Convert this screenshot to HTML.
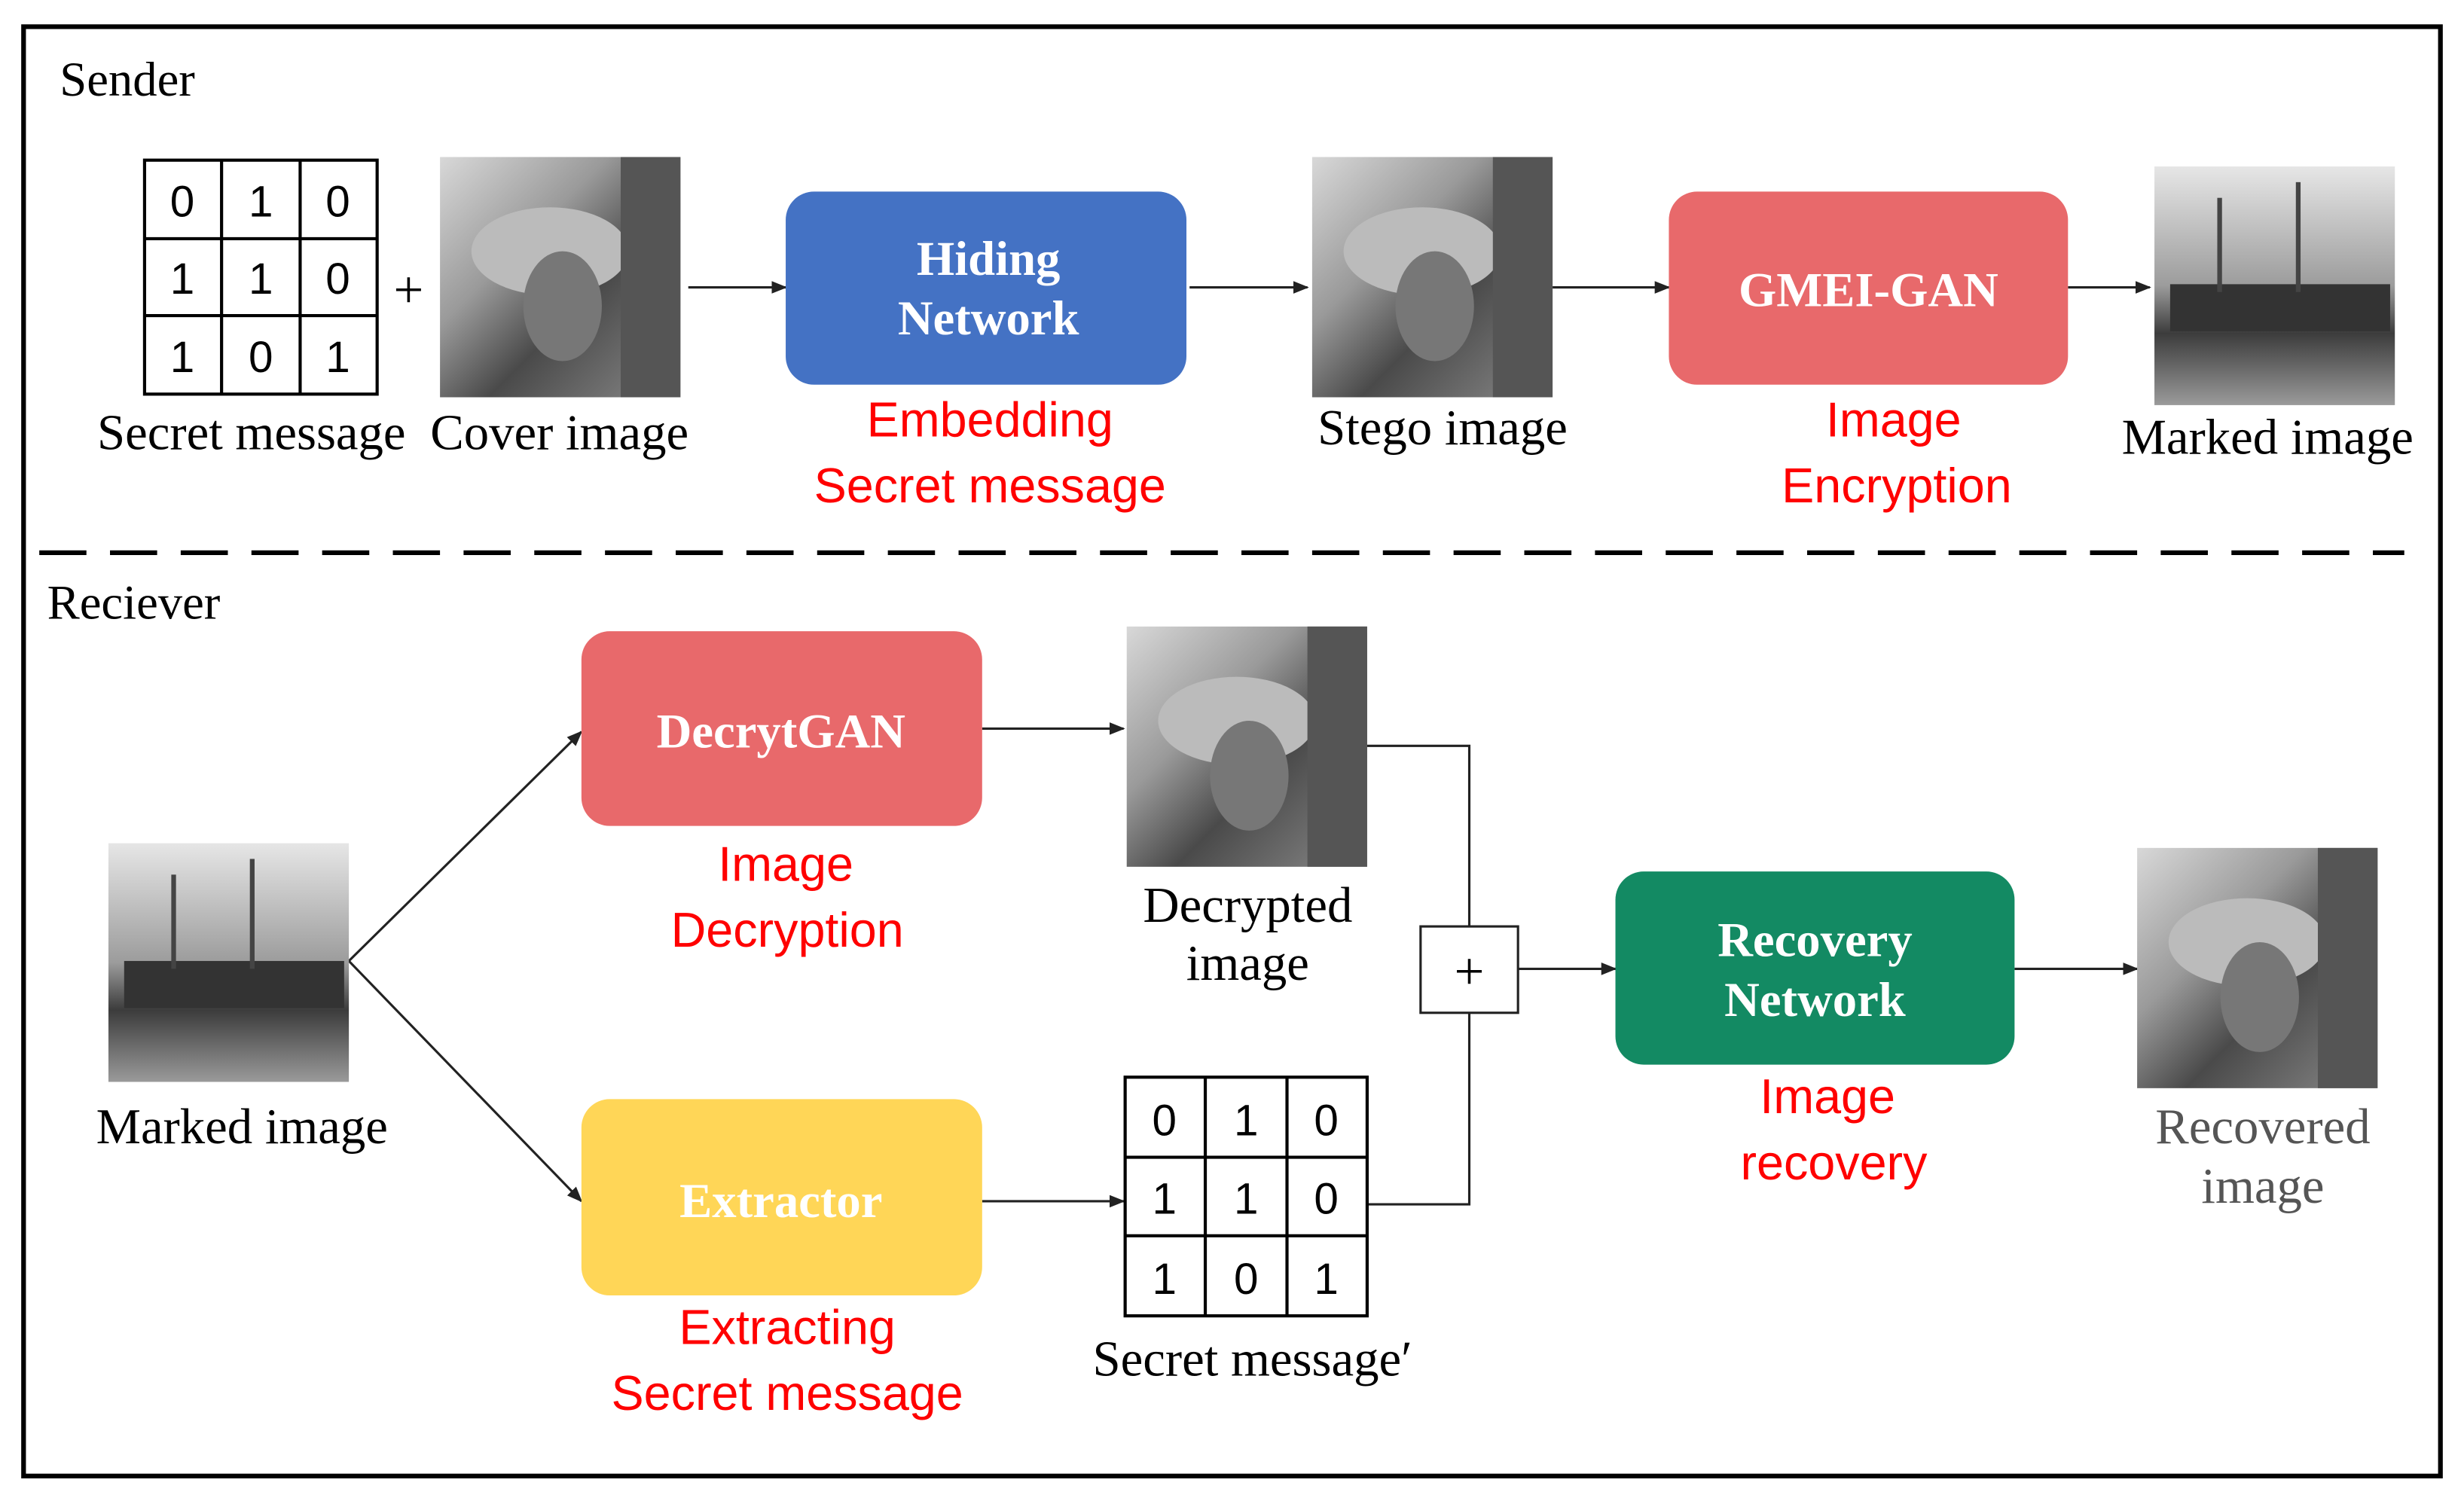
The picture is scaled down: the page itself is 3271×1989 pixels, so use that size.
<!DOCTYPE html>
<html><head><meta charset="utf-8"><style>html,body{margin:0;padding:0;background:#fff}svg{display:block}</style></head><body>
<svg width="3271" height="1989" viewBox="0 0 1568 954" preserveAspectRatio="none" xmlns="http://www.w3.org/2000/svg">
<defs>
<marker id="a" markerWidth="10" markerHeight="10" refX="9" refY="5" orient="auto" markerUnits="userSpaceOnUse"><path d="M0,1 L10,5 L0,9 z" fill="#222"/></marker>
<linearGradient id="lena" x1="0" y1="0" x2="1" y2="1"><stop offset="0" stop-color="#d8d8d8"/><stop offset="0.35" stop-color="#9a9a9a"/><stop offset="0.6" stop-color="#4a4a4a"/><stop offset="1" stop-color="#8a8a8a"/></linearGradient>
<linearGradient id="boat" x1="0" y1="0" x2="0" y2="1"><stop offset="0" stop-color="#e6e6e6"/><stop offset="0.5" stop-color="#9c9c9c"/><stop offset="0.7" stop-color="#3c3c3c"/><stop offset="1" stop-color="#9a9a9a"/></linearGradient>
<g id="L"><rect width="153" height="153" fill="url(#lena)"/><ellipse cx="70" cy="60" rx="50" ry="28" fill="#bbb"/><ellipse cx="78" cy="95" rx="25" ry="35" fill="#777"/><rect x="115" width="38" height="153" fill="#555"/></g>
<g id="B"><rect width="153" height="152" fill="url(#boat)"/><rect x="10" y="75" width="140" height="30" fill="#333"/><rect x="40" y="20" width="3" height="60" fill="#444"/><rect x="90" y="10" width="3" height="70" fill="#444"/></g>
</defs>
<g font-family="Liberation Serif, serif">
<rect x="15" y="17" width="1538" height="923" fill="none" stroke="#000" stroke-width="3"/>
<text x="38" y="61" font-size="31">Sender</text>
<line x1="25" y1="352" x2="1530" y2="352" stroke="#000" stroke-width="3" stroke-dasharray="30,15"/>
<text x="30" y="394" font-size="31">Reciever</text>

<g stroke="#000" stroke-width="2" fill="none"><rect x="92" y="102" width="148" height="149"/><line x1="141" y1="102" x2="141" y2="251"/><line x1="191" y1="102" x2="191" y2="251"/><line x1="92" y1="152" x2="240" y2="152"/><line x1="92" y1="201" x2="240" y2="201"/></g>
<g font-family="Liberation Sans, sans-serif" font-size="28" text-anchor="middle"><text x="116" y="138">0</text><text x="166" y="138">1</text><text x="215" y="138">0</text><text x="116" y="187">1</text><text x="166" y="187">1</text><text x="215" y="187">0</text><text x="116" y="237">1</text><text x="166" y="237">0</text><text x="215" y="237">1</text></g>
<text x="260" y="196" font-size="34" text-anchor="middle">+</text>
<use href="#L" x="280" y="100"/>
<text x="160" y="286" font-size="32" text-anchor="middle">Secret message</text>
<text x="356" y="286" font-size="32" text-anchor="middle">Cover image</text>

<g stroke="#222" stroke-width="1.5" marker-end="url(#a)" fill="none">
<line x1="438" y1="183" x2="500" y2="183"/><line x1="757" y1="183" x2="832" y2="183"/><line x1="988" y1="183" x2="1062" y2="183"/><line x1="1316" y1="183" x2="1368" y2="183"/>
<line x1="222" y1="612" x2="370" y2="466"/><line x1="222" y1="612" x2="370" y2="765"/>
<line x1="625" y1="464" x2="715" y2="464"/><line x1="625" y1="765" x2="715" y2="765"/>
<line x1="966" y1="617" x2="1028" y2="617"/><line x1="1282" y1="617" x2="1360" y2="617"/>
</g>
<polyline points="870,475 935,475 935,590" fill="none" stroke="#222" stroke-width="1.5"/>
<polyline points="935,645 935,767 870,767" fill="none" stroke="#222" stroke-width="1.5"/>
<rect x="904" y="590" width="62" height="55" fill="#fff" stroke="#222" stroke-width="1.5"/>
<text x="935" y="630" font-size="34" text-anchor="middle">+</text>

<rect x="500" y="122" width="255" height="123" rx="18" fill="#4472C4"/>
<text x="629" y="175" font-size="31" font-weight="bold" fill="#fff" text-anchor="middle">Hiding</text>
<text x="629" y="213" font-size="31" font-weight="bold" fill="#fff" text-anchor="middle">Network</text>
<use href="#L" x="835" y="100"/>
<text x="918" y="283" font-size="32" text-anchor="middle">Stego image</text>
<rect x="1062" y="122" width="254" height="123" rx="18" fill="#E8696B"/>
<text x="1189" y="195" font-size="31" font-weight="bold" fill="#fff" text-anchor="middle">GMEI-GAN</text>
<use href="#B" x="1371" y="106"/>
<text x="1443" y="289" font-size="32" text-anchor="middle">Marked image</text>

<use href="#B" x="69" y="537"/>
<text x="154" y="728" font-size="32" text-anchor="middle">Marked image</text>
<rect x="370" y="402" width="255" height="124" rx="18" fill="#E8696B"/>
<text x="497" y="476" font-size="31" font-weight="bold" fill="#fff" text-anchor="middle">DecrytGAN</text>
<rect x="370" y="700" width="255" height="125" rx="18" fill="#FFD657"/>
<text x="497" y="775" font-size="31" font-weight="bold" fill="#fff" text-anchor="middle">Extractor</text>
<use href="#L" x="717" y="399"/>
<text x="794" y="587" font-size="32" text-anchor="middle">Decrypted</text>
<text x="794" y="624" font-size="32" text-anchor="middle">image</text>
<rect x="1028" y="555" width="254" height="123" rx="18" fill="#138A63"/>
<text x="1155" y="609" font-size="31" font-weight="bold" fill="#fff" text-anchor="middle">Recovery</text>
<text x="1155" y="647" font-size="31" font-weight="bold" fill="#fff" text-anchor="middle">Network</text>
<use href="#L" x="1360" y="540"/>
<text x="1440" y="728" font-size="32" fill="#555" text-anchor="middle">Recovered</text>
<text x="1440" y="766" font-size="32" fill="#555" text-anchor="middle">image</text>

<g stroke="#000" stroke-width="2" fill="none"><rect x="716" y="686" width="154" height="152"/><line x1="767" y1="686" x2="767" y2="838"/><line x1="819" y1="686" x2="819" y2="838"/><line x1="716" y1="737" x2="870" y2="737"/><line x1="716" y1="787" x2="870" y2="787"/></g>
<g font-family="Liberation Sans, sans-serif" font-size="28" text-anchor="middle"><text x="741" y="723">0</text><text x="793" y="723">1</text><text x="844" y="723">0</text><text x="741" y="773">1</text><text x="793" y="773">1</text><text x="844" y="773">0</text><text x="741" y="824">1</text><text x="793" y="824">0</text><text x="844" y="824">1</text></g>
<text x="797" y="876" font-size="32" text-anchor="middle">Secret message′</text>

<g font-family="Liberation Sans, sans-serif" font-size="31" fill="#FF0000" text-anchor="middle">
<text x="630" y="278">Embedding</text><text x="630" y="320">Secret message</text>
<text x="1205" y="278">Image</text><text x="1207" y="320">Encryption</text>
<text x="500" y="561">Image</text><text x="501" y="603">Decryption</text>
<text x="1163" y="709">Image</text><text x="1167" y="751">recovery</text>
<text x="501" y="856">Extracting</text><text x="501" y="898">Secret message</text>
</g>
</g>
</svg>
</body></html>
